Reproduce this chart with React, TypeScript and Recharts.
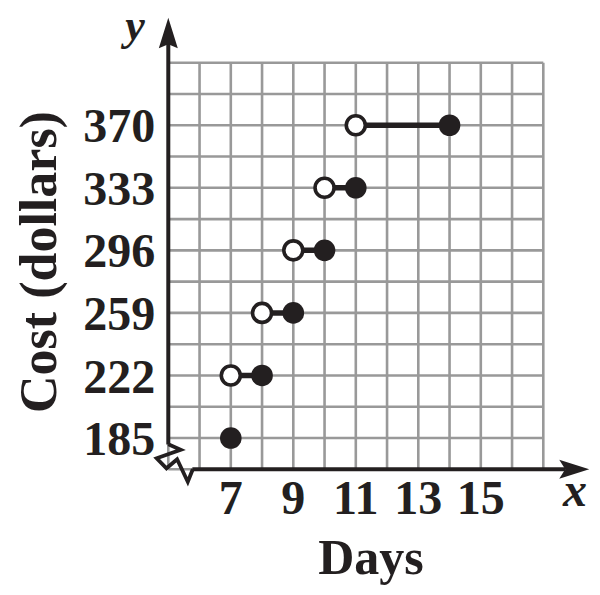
import React from "react";
import {
  ComposedChart,
  XAxis,
  YAxis,
  CartesianGrid,
  Scatter,
  Line,
  ReferenceLine,
  ReferenceDot,
} from "recharts";

// ---- data ----
const closedDays = [7, 8, 9, 10, 11, 14];
const closedCost = [185, 222, 259, 296, 333, 370];
const openDays = [7, 8, 9, 10, 11];
const openCost = [222, 259, 296, 333, 370];

// grid / tick values
const xGridTicks = [6, 7, 8, 9, 10, 11, 12, 13, 14, 15, 16, 17];
const xLabelTicks = [7, 9, 11, 13, 15];
const yGridTicks = [185, 203.5, 222, 240.5, 259, 277.5, 296, 314.5, 333, 351.5, 370, 388.5, 407];
const yLabelTicks = [185, 222, 259, 296, 333, 370];

const closedData = closedDays.map((x, i) => ({ x, y: closedCost[i] }));
const openData = openDays.map((x, i) => ({ x, y: openCost[i] }));
// each step: from open endpoint to closed endpoint at the same cost
const segments = openDays.map((x, i) => [
  { x, y: openCost[i] },
  { x: closedDays[i + 1], y: openCost[i] },
]);

// ---- layout ----
const W = 600;
const H = 595;
const INK = "#231f20";
const FONT = "'Liberation Serif', 'Times New Roman', serif";
const X_DOMAIN = [5, 17];
const Y_DOMAIN = [166.5, 407];
const X_AXIS_START = 5.77;
const X_AXIS_TIP = 18.47;
const Y_AXIS_START = 181.2;
const Y_AXIS_TIP = 433.6;
const Y_AXIS_W = 90;
const X_AXIS_H = 60;

const xLabelSet = new Set(xLabelTicks);
const yLabelSet = new Set(yLabelTicks);

const YAxisArrow = (p: any) => {
  const { x1, y1, x2, y2 } = p;
  const tx = x2;
  const ty = Math.min(y1, y2);
  const by = Math.max(y1, y2);
  return (
    <g>
      <line x1={x1} y1={by} x2={tx} y2={ty + 26} stroke={INK} strokeWidth={4} />
      <path
        d={`M${tx},${ty} L${tx + 9.5},${ty + 30.6} L${tx},${ty + 26.6} L${tx - 9.5},${ty + 30.6} Z`}
        fill={INK}
      />
    </g>
  );
};

const XAxisArrow = (p: any) => {
  const { x1, y1, x2 } = p;
  const tx = Math.max(x1, x2);
  const sx = Math.min(x1, x2);
  const ty = y1;
  return (
    <g>
      <line x1={sx} y1={ty} x2={tx - 24} y2={ty} stroke={INK} strokeWidth={4} />
      <path
        d={`M${tx},${ty} L${tx - 30},${ty - 9.5} L${tx - 24},${ty} L${tx - 30},${ty + 9.5} Z`}
        fill={INK}
      />
    </g>
  );
};

const BreakMark = (p: any) => {
  const { cx, cy } = p;
  const pts = [
    [0, -25],
    [12.4, -19.5],
    [-11.6, -11],
    [-1.8, -1],
    [8.8, -10],
    [19.5, 12.4],
    [24.5, 0],
  ];
  const d = pts.map((q, i) => `${i === 0 ? "M" : "L"}${cx + q[0]},${cy + q[1]}`).join(" ");
  return <path d={d} fill="none" stroke={INK} strokeWidth={3.8} strokeLinejoin="miter" />;
};

const ClosedDot = (p: any) => <circle cx={p.cx} cy={p.cy} r={10.8} fill={INK} />;
const OpenDot = (p: any) => (
  <circle cx={p.cx} cy={p.cy} r={9.5} fill="#ffffff" stroke={INK} strokeWidth={3.6} />
);

const Titles = () => (
  <g fontFamily={FONT} fill={INK}>
    <text x={371} y={574} textAnchor="middle" fontSize={50} fontWeight="bold">
      Days
    </text>
    <text
      x={56}
      y={262}
      textAnchor="middle"
      fontSize={52}
      fontWeight="bold"
      transform="rotate(-90 56 262)"
    >
      Cost (dollars)
    </text>
    <text x={135} y={40} textAnchor="middle" fontSize={44} fontStyle="italic" fontWeight="bold">
      y
    </text>
    <text x={575} y={506} textAnchor="middle" fontSize={48} fontStyle="italic" fontWeight="bold">
      x
    </text>
  </g>
);

export default function App() {
  const tickStyle = { fill: INK, fontSize: 48, fontWeight: "bold", fontFamily: FONT };
  return (
    <div style={{ position: "absolute", left: 0, top: 0, width: W, height: H, background: "#fff" }}>
      <ComposedChart
        width={W}
        height={H}
        margin={{ top: 62.7, right: W - 543.3, bottom: H - 469.3 - X_AXIS_H, left: 168.3 - Y_AXIS_W }}
      >
        <CartesianGrid stroke="#999999" strokeWidth={2.6} />
        <XAxis
          type="number"
          dataKey="x"
          domain={X_DOMAIN}
          allowDataOverflow
          ticks={xGridTicks}
          interval={0}
          height={X_AXIS_H}
          axisLine={false}
          tickLine={false}
          tickSize={0}
          tickMargin={11}
          tick={tickStyle}
          tickFormatter={(v: number) => (xLabelSet.has(v) ? String(v) : "")}
        />
        <YAxis
          type="number"
          dataKey="y"
          domain={Y_DOMAIN}
          allowDataOverflow
          ticks={yGridTicks}
          interval={0}
          width={Y_AXIS_W}
          axisLine={false}
          tickLine={false}
          tickSize={0}
          tickMargin={13}
          tick={tickStyle}
          tickFormatter={(v: number) => (yLabelSet.has(v) ? String(v) : "")}
        />
        <ReferenceLine
          segment={[
            { x: 5, y: Y_AXIS_START },
            { x: 5, y: Y_AXIS_TIP },
          ]}
          ifOverflow="visible"
          shape={YAxisArrow}
        />
        <ReferenceLine
          segment={[
            { x: X_AXIS_START, y: 166.5 },
            { x: X_AXIS_TIP, y: 166.5 },
          ]}
          ifOverflow="visible"
          shape={XAxisArrow}
        />
        <ReferenceDot x={5} y={166.5} ifOverflow="visible" shape={BreakMark} />
        {segments.map((seg, i) => (
          <Line
            key={`seg-${i}`}
            data={seg}
            dataKey="y"
            type="linear"
            stroke={INK}
            strokeWidth={5.5}
            dot={false}
            activeDot={false}
            isAnimationActive={false}
          />
        ))}
        <Scatter data={closedData} shape={ClosedDot} isAnimationActive={false} />
        <Scatter data={openData} shape={OpenDot} isAnimationActive={false} />
        <Titles />
      </ComposedChart>
    </div>
  );
}
